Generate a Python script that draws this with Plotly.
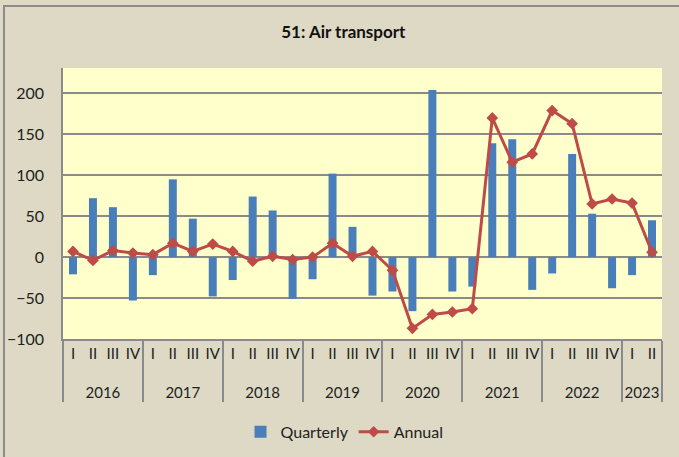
import plotly.graph_objects as go

# categories
years = ["2016"] * 4 + ["2017"] * 4 + ["2018"] * 4 + ["2019"] * 4 + \
        ["2020"] * 4 + ["2021"] * 4 + ["2022"] * 4 + ["2023"] * 2
quarters = ["I", "II", "III", "IV"] * 7 + ["I", "II"]

# series values
quarterly = [-21, 72, 61, -53,
             -22, 95, 47, -48,
             -28, 74, 57, -51,
             -27, 102, 37, -47,
             -42, -66, 204, -42,
             -36, 139, 144, -40,
             -20, 126, 53, -38,
             -22, 45]
annual = [7, -4, 8, 5,
          3, 17, 7, 16,
          7, -5, 1, -3,
          0, 17, 1, 7,
          -16, -87, -70, -67,
          -63, 170, 116, 126,
          179, 163, 65, 71,
          66, 6]

y_ticks = [-100, -50, 0, 50, 100, 150, 200]

FONT = "Lato, Liberation Sans, Arial, sans-serif"

# year labels pushed down one line, as in the original two-row axis
x_cats = [["<br>" + y for y in years], quarters]

fig = go.Figure()
fig.add_trace(go.Bar(
    x=x_cats, y=quarterly, name="Quarterly",
    marker=dict(color="#4A7EBB", line=dict(width=0)),
))
fig.add_trace(go.Scatter(
    x=x_cats, y=annual, name="Annual", mode="lines+markers",
    line=dict(color="#BE4B48", width=3),
    marker=dict(symbol="diamond", size=9, color="#BE4B48"),
))

fig.update_layout(
    width=679, height=457,
    margin=dict(l=63, r=17, t=68, b=118, autoexpand=False),
    paper_bgcolor="#DDD9C4",
    plot_bgcolor="#FFFFCC",
    font=dict(family=FONT, size=16, color="#222222"),
    title=dict(text="<b>51: Air transport</b>", x=0.468, xanchor="center",
               y=0.93, yanchor="middle", font=dict(size=17, color="#111111"),
               xref="paper"),
    bargap=0.6,
    showlegend=True,
    legend=dict(orientation="h", x=0.47, xanchor="center",
                yref="container", y=0.055, yanchor="middle",
                font=dict(size=16), bgcolor="rgba(0,0,0,0)", traceorder="normal"),
    shapes=[dict(type="rect", xref="paper", yref="paper",
                 x0=-0.0985, x1=1.2, y0=-0.6, y1=1.229,
                 line=dict(color="#8C8C8C", width=2), layer="below")],
)

fig.update_yaxes(
    range=[-100, 231], tickvals=y_ticks, showgrid=True, gridcolor="#8A8A8A",
    gridwidth=1.5, zeroline=True, zerolinecolor="#8A8A8A", zerolinewidth=1.5,
    showline=True, linecolor="#8A8A8A", linewidth=1.5, ticks="",
    tickfont=dict(size=16), ticklabelstandoff=14, automargin=False,
)
fig.update_xaxes(
    type="multicategory", range=[-0.5, len(quarters) - 0.5],
    showgrid=False, showline=True, linecolor="#8A8A8A",
    linewidth=1.5, showdividers=True, dividercolor="#8A8A8A", dividerwidth=1.5,
    ticks="", tickfont=dict(size=15), tickangle=0, automargin=False,
)

fig.write_html(
    "out.html",
    config={"responsive": False, "displayModeBar": False},
    post_script="document.body.style.margin='0';document.body.style.overflow='hidden';",
)
